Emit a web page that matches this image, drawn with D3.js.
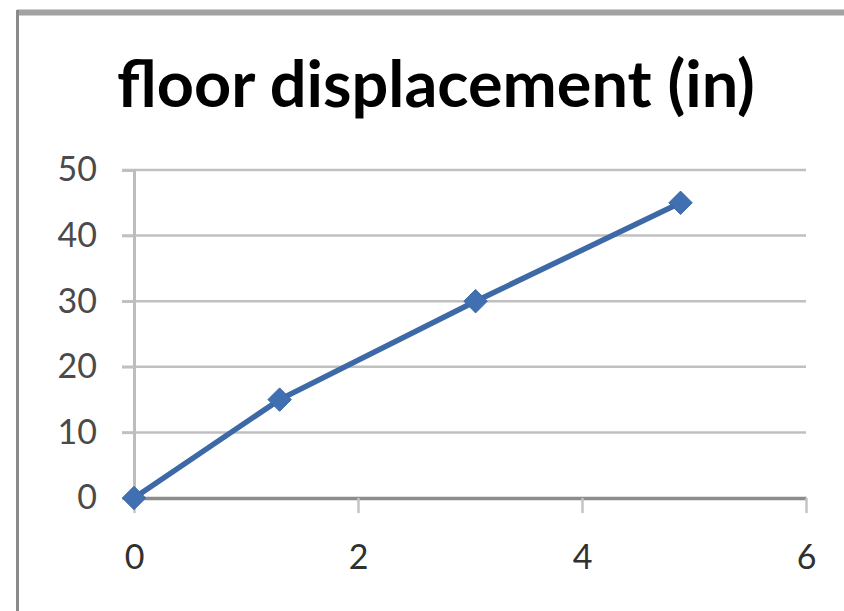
<!DOCTYPE html>
<html>
<head>
<meta charset="utf-8">
<script src="https://cdn.jsdelivr.net/npm/d3@7"></script>
<style>
  html, body { margin: 0; padding: 0; background: #fff; }
  svg { display: block; }
</style>
</head>
<body>
<svg id="chart" width="844" height="611"></svg>
<script>
// Floor displacement series (x, inches)
const xValues = [0, 1.3, 3.05, 4.88];
const yValues = [0, 15, 30, 45];
const xTicks = [0, 2, 4, 6];
const yTicks = [0, 10, 20, 30, 40, 50];
const titleText = "floor displacement (in)";

const svg = d3.select("#chart");
const margin = { left: 134, right: 806, top: 170, bottom: 498 };

const x = d3.scaleLinear().domain([0, 6]).range([margin.left, margin.right]);
const y = d3.scaleLinear().domain([0, 50]).range([margin.bottom, margin.top]);

// chart frame: top and left edges
svg.append("line").attr("x1", 17).attr("x2", 844).attr("y1", 12.5).attr("y2", 12.5)
  .attr("stroke", "#a2a2a2").attr("stroke-width", 6);
svg.append("line").attr("x1", 17.5).attr("x2", 17.5).attr("y1", 10).attr("y2", 611)
  .attr("stroke", "#8a8a8a").attr("stroke-width", 3);

// title
const title = svg.append("text")
  .attr("x", 436).attr("y", 107)
  .attr("text-anchor", "middle")
  .attr("font-family", "Lato, 'Open Sans', sans-serif")
  .attr("font-weight", 700)
  .attr("font-size", 60)
  .attr("fill", "#000")
  .text(titleText);
const tw = title.node().getComputedTextLength();
title.attr("font-size", 60 * 638 / tw);

// horizontal gridlines
svg.append("g")
  .selectAll("line")
  .data(yTicks.filter(d => d !== 0))
  .join("line")
  .attr("x1", margin.left - 12).attr("x2", margin.right)
  .attr("y1", d => y(d)).attr("y2", d => y(d))
  .attr("stroke", "#c0c0c0").attr("stroke-width", 2.5);

// y axis
const yAxis = svg.append("g")
  .attr("transform", `translate(${margin.left},0)`)
  .call(d3.axisLeft(y).tickValues(yTicks).tickSize(12).tickPadding(25).tickFormat(d3.format("d")));
yAxis.select(".domain").attr("stroke", "#bdbdbd").attr("stroke-width", 3);
yAxis.selectAll(".tick line").attr("stroke", "#c0c0c0").attr("stroke-width", 2.5);
yAxis.selectAll(".tick text")
  .attr("font-family", "Lato, sans-serif")
  .attr("font-size", 34).attr("fill", "#4a4a4a");

// x axis
const xAxis = svg.append("g")
  .attr("transform", `translate(0,${margin.bottom})`)
  .call(d3.axisBottom(x).tickValues(xTicks).tickSize(15).tickPadding(32).tickSizeOuter(0).tickFormat(d3.format("d")));
xAxis.select(".domain").attr("stroke", "#8c8c8c").attr("stroke-width", 3.5);
xAxis.selectAll(".tick line").attr("stroke", "#c4c4c4").attr("stroke-width", 2.5);
xAxis.selectAll(".tick text")
  .attr("font-family", "Lato, sans-serif")
  .attr("font-size", 34).attr("fill", "#303030");

// data line
const pts = xValues.map((v, i) => [v, yValues[i]]);
svg.append("path")
  .datum(pts)
  .attr("fill", "none")
  .attr("stroke", "#3d69a6")
  .attr("stroke-width", 5.5)
  .attr("d", d3.line().x(d => x(d[0])).y(d => y(d[1])));

// diamond markers
svg.append("g")
  .selectAll("path")
  .data(pts)
  .join("path")
  .attr("transform", d => `translate(${x(d[0])},${y(d[1])})`)
  .attr("d", d3.symbol().type(d3.symbolDiamond2).size(350))
  .attr("fill", "#4170b2")
  .attr("stroke", "#3d69a6")
  .attr("stroke-width", 1);
</script>
</body>
</html>
